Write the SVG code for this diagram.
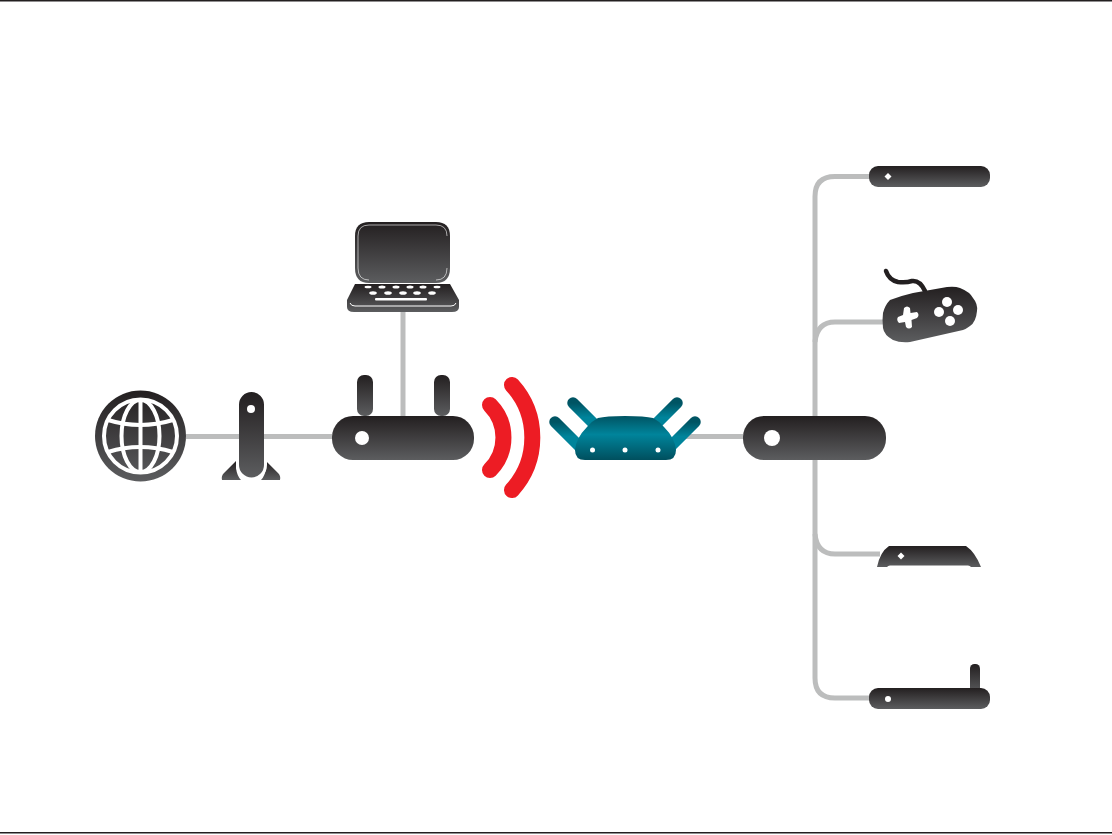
<svg xmlns="http://www.w3.org/2000/svg" width="1112" height="835" viewBox="0 0 1112 835">
<style>
.d{fill:url(#dark)}
.w{fill:#fff}
.wl{fill:none;stroke:#fff;stroke-width:4}
.c{fill:none;stroke:#bcbdbd;stroke-width:5}
.a{fill:none;stroke:url(#tealA);stroke-width:11.500;stroke-linecap:round}
.r{fill:none;stroke:#ed1c24;stroke-width:16;stroke-linecap:round}
</style>
<defs>
<linearGradient id="dark" x1="0" y1="0" x2="0" y2="1"><stop offset="0" stop-color="#231f20"/><stop offset="1" stop-color="#5c5d5f"/></linearGradient>
<linearGradient id="teal" gradientUnits="userSpaceOnUse" x1="0" y1="416" x2="0" y2="460"><stop offset="0" stop-color="#005463"/><stop offset="0.42" stop-color="#00849b"/><stop offset="1" stop-color="#004f5e"/></linearGradient>
<linearGradient id="tealA" x1="0" y1="0" x2="0" y2="1"><stop offset="0" stop-color="#005463"/><stop offset="0.5" stop-color="#00849b"/><stop offset="1" stop-color="#00849b"/></linearGradient>
</defs>
<rect width="1112" height="835" fill="#fff"/>
<rect x="0" y="0" width="1112" height="1.5" fill="#231f20"/>
<rect x="0" y="832" width="1112" height="1.5" fill="#231f20"/>
<g id="connectors">
<path class="c" d="M186,436.500H332"/>
<path class="c" d="M403,312V416"/>
<path class="c" d="M676,436.500H743"/>
<path class="c" d="M870,176.500H835Q815,176.500 815,196.500V678Q815,698 835,698H870"/>
<path class="c" d="M885,322H835Q817,322 815,342"/>
<path class="c" d="M880,554H835Q817,554 815,534"/>
</g>
<g id="globe">
<circle class="d" cx="140.500" cy="436" r="45.500"/>
<circle class="wl" cx="140.500" cy="436" r="36.500"/>
<ellipse class="wl" cx="140.500" cy="436" rx="19" ry="36"/>
<path class="wl" d="M140.500,400V472"/>
<path class="wl" d="M108,420Q140,430 173,420M108,452Q140,442 173,452"/>
</g>
<g id="modem">
<path class="d" d="M222,480Q221,476 224,473L236,461V468Q237,476 241,480Z"/>
<path class="d" d="M280,480Q281,476 278,473L266,461V468Q265,476 261,480Z"/>
<path class="w" d="M236,458V465a15.500,15.500 0 0 0 31,0V458Z"/>
<path d="M251.500,392a12.500,12.500 0 0 1 12.500,12.500V465a12.500,12.500 0 0 1-25,0V404.500a12.500,12.500 0 0 1 12.500-12.500Z" class="d"/>
<circle class="w" cx="251" cy="409" r="4"/>
</g>
<g id="laptop">
<path class="d" d="M355,236Q355,222 369,222H436Q450,222 450,236V268Q450,283 436,283H369Q355,283 355,268Z"/>
<path d="M358,268V236Q358,225 369,225H436Q447,225 447,236M447,268Q447,280 436,280M369,280Q358,280 358,268" fill="none" stroke="#fff" stroke-width="0.600"/>
<path class="d" d="M355,284H450L459,300V307Q459,312 452,312H354Q347,312 347,307V300Z"/>
<path d="M350,303Q351,306 355,306H451Q455,306 456,303" fill="none" stroke="#fff" stroke-width="1"/>
<g class="w">
<ellipse cx="368" cy="287" rx="3.500" ry="1.300"/><ellipse cx="382" cy="287" rx="3.500" ry="1.500"/><ellipse cx="396" cy="287" rx="3.500" ry="1.500"/><ellipse cx="410" cy="287" rx="3.500" ry="1.500"/><ellipse cx="423" cy="287" rx="3.500" ry="1.500"/><ellipse cx="437" cy="287" rx="3.500" ry="1.300"/>
<ellipse cx="373" cy="293" rx="3.800" ry="1.800"/><ellipse cx="388" cy="293" rx="3.800" ry="1.800"/><ellipse cx="403" cy="293" rx="3.800" ry="1.800"/><ellipse cx="417" cy="293" rx="3.800" ry="1.800"/><ellipse cx="432" cy="293" rx="3.800" ry="1.800"/>
<rect x="375" y="298" width="52" height="2.500" rx="1"/>
</g>
</g>
<g id="router-black">
<rect class="d" x="357" y="375" width="16" height="41" rx="7"/>
<rect class="d" x="434" y="375" width="16" height="41" rx="7"/>
<rect class="d" x="332" y="416" width="142" height="44" rx="21"/>
<circle class="w" cx="362" cy="438" r="7"/>
</g>
<g id="wifi">
<path class="r" d="M490,405A46,46 0 0 1 490,470"/>
<path class="r" d="M512,385A78,78 0 0 1 512,490"/>
</g>
<g id="extender">
<path class="a" d="M555,422L584,451"/>
<path class="a" d="M573,403L602,432"/>
<path class="a" d="M695,422L666,451"/>
<path class="a" d="M677,403L648,432"/>
<path fill="url(#teal)" d="M575,450Q576,438 587,427Q592,421 598,418Q606,416 625,416Q645,416 653,418Q659,421 664,427Q675,438 676,450Q676,460 666,460H585Q575,460 575,450Z"/>
<circle class="w" cx="592.500" cy="450" r="2.500"/>
<circle class="w" cx="625" cy="450" r="2.500"/>
<circle class="w" cx="658" cy="450" r="2.500"/>
</g>
<g id="hub">
<rect class="d" x="743" y="416" width="143" height="44" rx="21"/>
<circle class="w" cx="772" cy="438" r="8"/>
</g>
<g id="top-box">
<rect class="d" x="869" y="166" width="121" height="21" rx="9"/>
<path class="w" d="M888,173L891.500,176.500L888,180L884.500,176.500Z"/>
</g>
<g id="gamepad">
<path d="M886,271Q889,280 898,282Q906,283 912,281Q920,280 925,291" fill="none" stroke="#231f20" stroke-width="4.500" stroke-linecap="round"/>
<path class="d" d="M890,300Q900,296 913,293L947,287Q955,286 960,288Q970,292 973,298Q978,304 977,311Q976,322 970,326Q966,329 963,330L910,342Q900,343 893,340Q884,335 883,328Q882,320 883,313Q885,305 890,300Z"/>
<path class="w" d="M904,308Q907,305 910,308L910.500,313L917,312Q920,315 917,318L911.500,320L912,327Q909,330 906,327L905,322L899,323Q896,320 898,317L903,315Z"/>
<circle class="w" cx="947" cy="302" r="5"/>
<circle class="w" cx="939" cy="312" r="5"/>
<circle class="w" cx="958" cy="310" r="5"/>
<circle class="w" cx="950" cy="321" r="5"/>
</g>
<g id="media-box">
<path class="d" d="M877,567Q880,552 889,546H966Q975,552 981,567H971Q970,565.500 968,565.500H890Q888,565.500 887,567Z"/>
<path class="w" d="M901,552.500L904.500,556L901,559.500L897.500,556Z"/>
</g>
<g id="bottom-box">
<rect class="d" x="970" y="664" width="10" height="30" rx="4.500"/>
<rect class="d" x="869" y="688" width="121" height="21" rx="9"/>
<circle class="w" cx="888" cy="699" r="3"/>
</g>
</svg>
